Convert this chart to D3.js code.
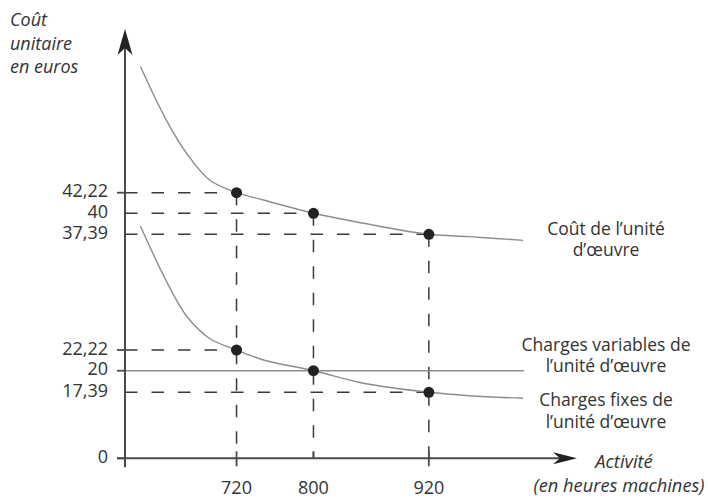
<!DOCTYPE html>
<html><head><meta charset="utf-8">
<script src="https://cdn.jsdelivr.net/npm/d3@7"></script>
<style>
html,body{margin:0;padding:0;background:#fff;}
svg{display:block;font-family:"Open Sans",sans-serif;}
</style></head><body>
<svg id="chart" width="708" height="500"></svg>
<script>
// ---- data ----
const activity      = [620, 647, 668, 692, 720, 748, 800, 852, 920, 962, 1018];
const coutUnite     = [58.0, 51.3, 47.15, 43.8, 42.22, 41.43, 40, 38.76, 37.39, 37.08, 36.6];
const chargesFixes  = [38.42, 31.26, 26.68, 23.73, 22.22, 21.15, 20, 18.48, 17.39, 16.5, 15.81];
const variableActivity = [604, 1019];
const chargesVariables = [20, 20];
const markedActivity = [720, 800, 920];
const markedCout     = [42.22, 40, 37.39];
const markedFixes    = [22.22, 20, 17.39];
const yTickValues = [0, 17.39, 20, 22.22, 37.39, 40, 42.22];
const yTickLabels = ["0", "17,39", "20", "22,22", "37,39", "40", "42,22"];
const yTickMarked = [0, 20, 22.22, 42.22];
const xTickValues = [720, 800, 920];
const xTickLabels = ["720", "800", "920"];
const yTitle = ["Coût", "unitaire", "en euros"];
const xTitle = ["Activité", "(en heures machines)"];
const labelCout = ["Coût de l’unité", "d’œuvre"];
const labelVar = ["Charges variables de", "l’unité d’œuvre"];
const labelFix = ["Charges fixes de", "l’unité d’œuvre"];

// ---- scales (schematic, piecewise axis) ----
const x = d3.scaleLinear().domain([604, 1072]).range([125, 575]);
const y = d3.scaleLinear()
  .domain([0, 17.39, 20, 22.22, 37.39, 40, 42.22, 60])
  .range([458.3, 392.3, 370.7, 350, 234.3, 213.3, 192.7, 50.5]);

const svg = d3.select("#chart");
const axisColor = "#4a4a4a", textColor = "#333", curveColor = "#8c8c8c", dashColor = "#3a3a3a";
const x0 = x(604), y0 = y(0);

// dashed guide lines
const dash = "12.5,14";
markedActivity.forEach((a, i) => {
  [markedCout[i], markedFixes[i]].forEach(v => {
    if (v === 20) return;
    svg.append("line").attr("x1", x0).attr("x2", x(a)).attr("y1", y(v)).attr("y2", y(v))
      .attr("stroke", dashColor).attr("stroke-width", 1.5).attr("stroke-dasharray", dash);
  });
  svg.append("line").attr("x1", x(a)).attr("x2", x(a)).attr("y1", y(markedCout[i])).attr("y2", y0)
    .attr("stroke", dashColor).attr("stroke-width", 1.5).attr("stroke-dasharray", dash);
});

// curves
const line = d3.line().x(d => x(d[0])).y(d => y(d[1])).curve(d3.curveCatmullRom.alpha(0.5));
svg.append("path").datum(d3.zip(activity, coutUnite)).attr("d", line)
  .attr("fill", "none").attr("stroke", curveColor).attr("stroke-width", 1.4);
svg.append("path").datum(d3.zip(activity, chargesFixes)).attr("d", line)
  .attr("fill", "none").attr("stroke", curveColor).attr("stroke-width", 1.4);
svg.append("path").datum(d3.zip(variableActivity, chargesVariables)).attr("d", d3.line().x(d => x(d[0])).y(d => y(d[1])))
  .attr("fill", "none").attr("stroke", curveColor).attr("stroke-width", 1.4);

// axes
svg.append("line").attr("x1", x0).attr("x2", x0).attr("y1", y0 + 9).attr("y2", 40)
  .attr("stroke", axisColor).attr("stroke-width", 2);
svg.append("path").attr("d", `M${x0},29 L${x0 + 7.5},55 L${x0},48 L${x0 - 7.5},55 Z`).attr("fill", "#222");
svg.append("line").attr("x1", x0 - 8).attr("x2", 565).attr("y1", y0).attr("y2", y0)
  .attr("stroke", axisColor).attr("stroke-width", 2);
svg.append("path").attr("d", `M577,${y0} L553,${y0 - 6} L560,${y0} L553,${y0 + 6} Z`).attr("fill", "#222");

// y ticks
yTickMarked.forEach(v => {
  svg.append("line").attr("x1", x0 - 8).attr("x2", x0).attr("y1", y(v)).attr("y2", y(v))
    .attr("stroke", axisColor).attr("stroke-width", 1.8);
});
svg.selectAll("text.ylab").data(yTickValues).join("text").attr("class", "ylab")
  .attr("x", 108).attr("y", d => y(d) + 4.5).attr("text-anchor", "end")
  .attr("font-size", 18).attr("fill", textColor).text((d, i) => yTickLabels[i]);

// x ticks
xTickValues.forEach((v, i) => {
  svg.append("line").attr("x1", x(v)).attr("x2", x(v)).attr("y1", y0 - 7).attr("y2", i === 1 ? y0 : y0 + 8)
    .attr("stroke", axisColor).attr("stroke-width", 1.8);
});
svg.selectAll("text.xlab").data(xTickValues).join("text").attr("class", "xlab")
  .attr("x", d => x(d)).attr("y", 494).attr("text-anchor", "middle")
  .attr("font-size", 18).attr("fill", textColor).text((d, i) => xTickLabels[i]);

// dots
svg.selectAll("circle.c").data(markedActivity).join("circle")
  .attr("cx", d => x(d)).attr("cy", (d, i) => y(markedCout[i])).attr("r", 5.5).attr("fill", "#222");
svg.selectAll("circle.f").data(markedActivity).join("circle")
  .attr("cx", d => x(d)).attr("cy", (d, i) => y(markedFixes[i])).attr("r", 5.5).attr("fill", "#222");

// titles
const yT = svg.append("text").attr("font-size", 18).attr("font-style", "italic").attr("fill", textColor);
yTitle.forEach((t, i) => yT.append("tspan").attr("x", 10).attr("y", 26 + i * 23.5).text(t));
svg.append("text").attr("x", 624).attr("y", 468).attr("text-anchor", "middle")
  .attr("font-size", 18.3).attr("font-style", "italic").attr("fill", textColor).text(xTitle[0]);
svg.append("text").attr("x", 619).attr("y", 491.5).attr("text-anchor", "middle")
  .attr("font-size", 18.3).attr("font-style", "italic").attr("fill", textColor).text(xTitle[1]);

// series labels
function block(lines, yb) {
  const t = svg.append("text").attr("font-size", 17.5).attr("fill", textColor).attr("text-anchor", "middle");
  lines.forEach((l, i) => t.append("tspan").attr("x", 606).attr("y", yb + i * 21.7).text(l));
}
block(labelCout, 234.5);
block(labelVar, 350.5);
block(labelFix, 406);
</script>
</body></html>
